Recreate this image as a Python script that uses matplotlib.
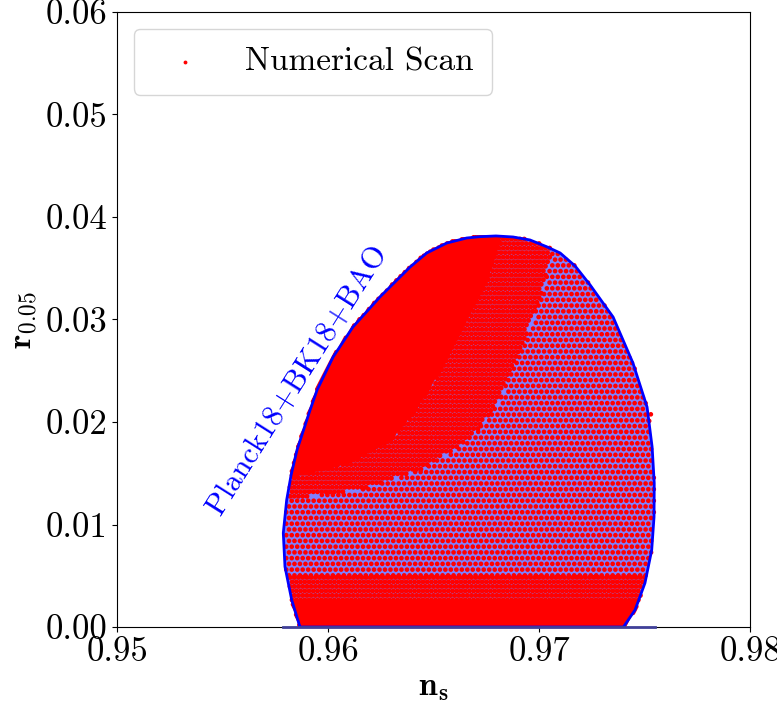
import numpy as np
import matplotlib
matplotlib.use("Agg")
import matplotlib.pyplot as plt
from matplotlib.path import Path

plt.rcParams["font.family"] = "cmr10"
plt.rcParams["mathtext.fontset"] = "cm"
plt.rcParams["axes.formatter.use_mathtext"] = True

# ========= Data =========
# Planck18+BK18+BAO allowed region (outer edge)
ns_contour = [0.95867, 0.95828, 0.95796, 0.95788, 0.95804, 0.95825, 0.95853,
              0.95915, 0.95948, 0.96024, 0.96118, 0.96246, 0.96389, 0.96468,
              0.96563, 0.96657, 0.96720, 0.96796, 0.96877, 0.96957, 0.97036,
              0.97100, 0.97171, 0.97242, 0.97351, 0.97445, 0.97512, 0.97536,
              0.97546, 0.97545, 0.97534, 0.97502, 0.97455, 0.97400]
r_contour = [0.00000, 0.00263, 0.00588, 0.00917, 0.01239, 0.01483, 0.01727,
             0.02117, 0.02312, 0.02634, 0.02927, 0.03220, 0.03512, 0.03649,
             0.03746, 0.03795, 0.03808, 0.03815, 0.03805, 0.03776, 0.03710,
             0.03649, 0.03522, 0.03337, 0.03024, 0.02576, 0.02146, 0.01756,
             0.01405, 0.01073, 0.00751, 0.00429, 0.00166, 0.00000]
# blue base of the region along r = 0
ns_base = [0.95787, 0.97550]

# numerical scan: zone where the points cover everything
ns_solid = [0.95700, 0.95700, 0.96848, 0.96744, 0.96626, 0.96531, 0.96412,
            0.96294, 0.96104, 0.95867, 0.95700]
r_solid = [0.01434, 0.04000, 0.04000, 0.03337, 0.02898, 0.02507, 0.02117,
           0.01824, 0.01610, 0.01483, 0.01434]
# zone where the points leave small gaps
ns_mid = [0.95700, 0.95700, 0.97100, 0.97005, 0.96910, 0.96815, 0.96673,
          0.96436, 0.96152, 0.95773, 0.95700]
r_mid = [0.01239, 0.04000, 0.04000, 0.03190, 0.02702, 0.02215, 0.01824,
         0.01532, 0.01337, 0.01239, 0.01239]
r_solid_floor = 0.0026  # solid strip along the bottom
r_mid_floor = 0.0050    # streaky strip above it
# point spacing (ns, r) in each zone
scan_step_solid = (0.00010, 0.00020)
scan_step_mid = (0.00020, 0.00044)
scan_step_sparse = (0.00026, 0.00056)
scan_outliers_ns = [0.97530, 0.97522]
scan_outliers_r = [0.02075, 0.02010]

x_ticks = [0.95, 0.96, 0.97, 0.98]
x_tick_labels = ["0.95", "0.96", "0.97", "0.98"]
y_ticks = [0.00, 0.01, 0.02, 0.03, 0.04, 0.05, 0.06]
y_tick_labels = ["0.00", "0.01", "0.02", "0.03", "0.04", "0.05", "0.06"]


def scan_grid(dns, dr):
    ns_g, r_g = np.meshgrid(np.arange(0.9575, 0.9760, dns), np.arange(0.0, 0.0385, dr))
    ns_g = ns_g + (np.arange(r_g.shape[0])[:, None] % 2) * dns / 2
    return np.column_stack([ns_g.ravel(), r_g.ravel()])


contour_path = Path(np.column_stack([ns_contour, r_contour]))
solid_path = Path(np.column_stack([ns_solid, r_solid]))
mid_path = Path(np.column_stack([ns_mid, r_mid]))


def zone(pts):
    inside = contour_path.contains_points(pts)
    solid = solid_path.contains_points(pts) | (pts[:, 1] < r_solid_floor)
    mid = (mid_path.contains_points(pts) | (pts[:, 1] < r_mid_floor)) & ~solid
    return inside, solid, mid


pts = scan_grid(*scan_step_solid)
inside, solid, mid = zone(pts)
p_solid = pts[inside & solid]

pts = scan_grid(*scan_step_mid)
inside, solid, mid = zone(pts)
p_mid = pts[inside & mid]

pts = scan_grid(*scan_step_sparse)
inside, solid, mid = zone(pts)
p_sparse = pts[inside & ~solid & ~mid]

scan_ns = np.concatenate([p_solid[:, 0], p_mid[:, 0], p_sparse[:, 0], scan_outliers_ns])
scan_r = np.concatenate([p_solid[:, 1], p_mid[:, 1], p_sparse[:, 1], scan_outliers_r])
scan_size = np.concatenate([np.full(len(p_solid) + len(p_mid), 13.0),
                            np.full(len(p_sparse) + len(scan_outliers_ns), 11.0)])

# ========= Plot =========
fig = plt.figure(figsize=(7.77, 7.17), dpi=100)
ax = fig.add_axes([0.1506, 0.1255, 0.8147, 0.8578])

ax.fill(ns_contour, r_contour, facecolor=(0.5, 0.5, 1.0), edgecolor="none", zorder=1)
ax.scatter(scan_ns, scan_r, s=scan_size, color="red", marker="o", linewidths=0,
           label="Numerical Scan", zorder=2)
ax.plot(ns_contour + ns_contour[:1], r_contour + r_contour[:1], color="blue", lw=2, zorder=3)
ax.plot(ns_base, [0, 0], color=(0.25, 0.25, 0.6), lw=2, zorder=4, clip_on=False)

ax.text(0.95858, 0.0241, "Planck18+BK18+BAO", color="blue", fontsize=22,
        rotation=57.7, ha="center", va="center")

ax.set_xlim(0.95, 0.98)
ax.set_ylim(0.0, 0.06)
ax.set_xticks(x_ticks)
ax.set_xticklabels(x_tick_labels)
ax.set_yticks(y_ticks)
ax.set_yticklabels(y_tick_labels)
ax.tick_params(labelsize=25)
ax.set_xlabel(r"$\mathbf{n_s}$", fontsize=24)
ax.set_ylabel(r"$\mathbf{r_{0.05}}$", fontsize=24)

ax.legend(loc="upper left", fontsize=24, borderpad=0.55, markerscale=0.8)

fig.savefig("out.png", dpi=100)
